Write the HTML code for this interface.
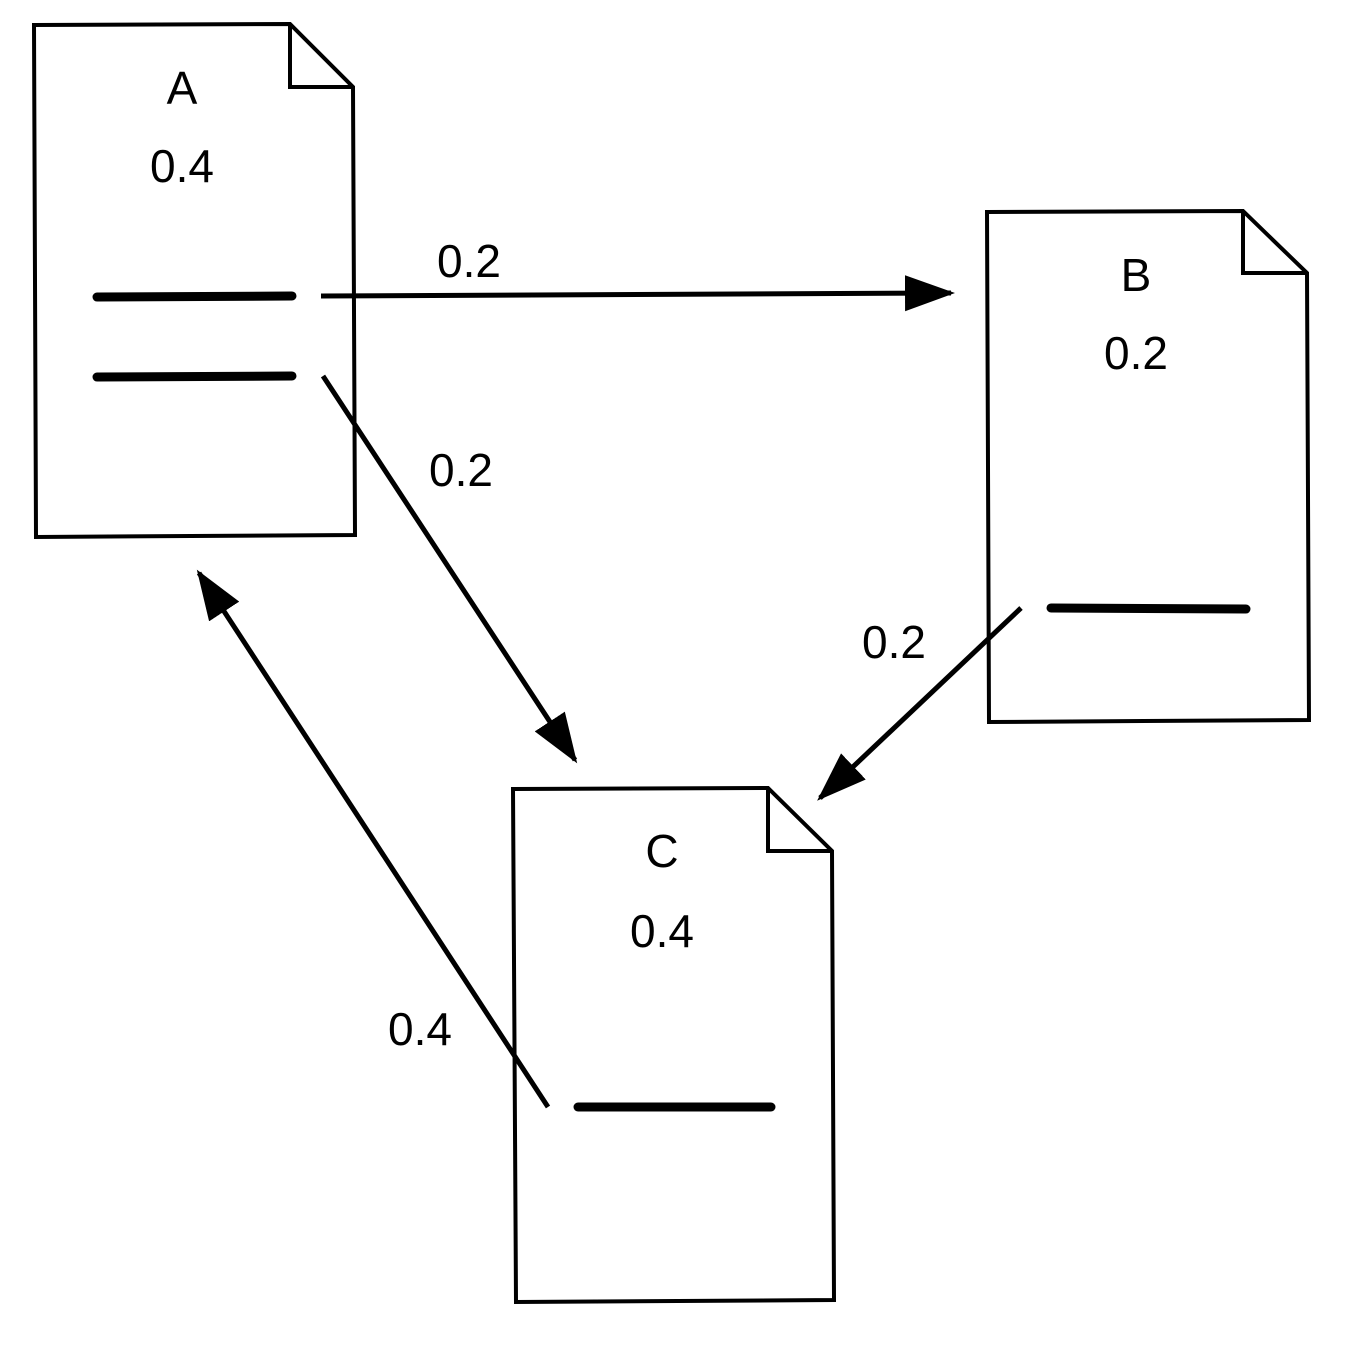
<!DOCTYPE html>
<html><head><meta charset="utf-8"><style>html,body{margin:0;padding:0;background:#fff}svg{display:block}</style></head>
<body>
<svg width="1350" height="1350" viewBox="0 0 1350 1350" xmlns="http://www.w3.org/2000/svg">
<defs>
<marker id="ah" markerUnits="userSpaceOnUse" markerWidth="60" markerHeight="50" refX="46" refY="18" orient="auto">
<path d="M0,0 L50,18 L0,36 Z" fill="#000"/>
</marker>
</defs>
<g fill="#fff" stroke="#000" stroke-width="4" stroke-linejoin="miter">
<path d="M34,25 L290,24 L353,87 L355,535 L36,537 Z"/>
<path d="M290,24 L290,87 L353,87" fill="none"/>
<path d="M987,212 L1243,211 L1307,273 L1309,720 L989,722 Z"/>
<path d="M1243,211 L1243,273 L1307,273" fill="none"/>
<path d="M513,789 L768,788 L832,851 L834,1300 L516,1302 Z"/>
<path d="M768,788 L768,851 L832,851" fill="none"/>
</g>
<g stroke="#000" stroke-width="9" stroke-linecap="round">
<line x1="97" y1="297" x2="292" y2="296"/>
<line x1="97" y1="377" x2="292" y2="376"/>
<line x1="1051" y1="608" x2="1246" y2="609"/>
<line x1="578" y1="1107" x2="771" y2="1107"/>
</g>
<g stroke="#000" stroke-width="5" stroke-linecap="butt" fill="none">
<line x1="321" y1="296" x2="951" y2="293" marker-end="url(#ah)"/>
<line x1="323" y1="376" x2="575" y2="760" marker-end="url(#ah)"/>
<line x1="1021" y1="608" x2="820" y2="798" marker-end="url(#ah)"/>
<line x1="548" y1="1107" x2="199" y2="573" marker-end="url(#ah)"/>
</g>
<g font-family="Liberation Sans, sans-serif" font-size="46" text-anchor="middle" fill="#000">
<text x="182" y="104">A</text>
<text x="182" y="182">0.4</text>
<text x="1136" y="291">B</text>
<text x="1136" y="369">0.2</text>
<text x="662" y="867">C</text>
<text x="662" y="947">0.4</text>
<text x="469" y="277">0.2</text>
<text x="461" y="486">0.2</text>
<text x="894" y="658">0.2</text>
<text x="420" y="1045">0.4</text>
</g>
</svg>
</body></html>
